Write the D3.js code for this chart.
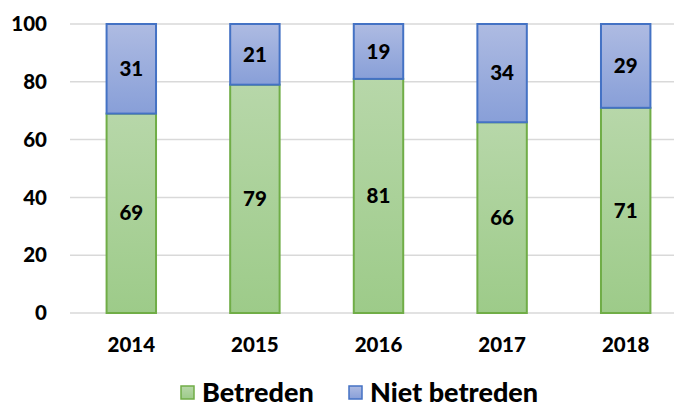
<!DOCTYPE html>
<meta charset="utf-8">
<style>
body { margin: 0; background: #fff; }
text { font-family: Lato, "Liberation Sans", sans-serif; font-weight: 900; fill: #000; }
.grid line { stroke: #d9d9d9; stroke-width: 1.5px; }
</style>
<svg width="674" height="409"></svg>
<script src="https://d3js.org/d3.v7.min.js"></script>
<script>

var years = ["2014", "2015", "2016", "2017", "2018"];
var betreden = [69, 79, 81, 66, 71];
var nietBetreden = [31, 21, 19, 34, 29];
var yTicks = [0, 20, 40, 60, 80, 100];

var svg = d3.select("svg");

var x = d3.scaleBand()
    .domain(years)
    .range([69.5, 687.5])
    .paddingInner(0.6)
    .paddingOuter(0.3);

var y = d3.scaleLinear()
    .domain([0, 100])
    .range([313, 24]);

// gradients, lighter at the top like the original
var defs = svg.append("defs");
function grad(id, top, bottom) {
  var g = defs.append("linearGradient").attr("id", id)
      .attr("x1", 0).attr("y1", 0).attr("x2", 0).attr("y2", 1);
  g.append("stop").attr("offset", "0%").attr("stop-color", top);
  g.append("stop").attr("offset", "100%").attr("stop-color", bottom);
}
grad("gGreen", "#b7d7a9", "#9dcb89");
grad("gBlue", "#aebbe2", "#889fd8");

// gridlines
svg.append("g").attr("class", "grid")
  .selectAll("line")
  .data(yTicks)
  .enter().append("line")
    .attr("x1", 70).attr("x2", 674)
    .attr("y1", function(d) { return y(d); })
    .attr("y2", function(d) { return y(d); });

// y tick labels
svg.append("g")
  .selectAll("text")
  .data(yTicks)
  .enter().append("text")
    .attr("x", 47)
    .attr("y", function(d) { return y(d); })
    .attr("dy", "0.35em")
    .attr("text-anchor", "end")
    .style("font-size", "20.5px")
    .text(function(d) { return d; });

var rows = years.map(function(yr, i) {
  return { year: yr, b: betreden[i], n: nietBetreden[i] };
});

var bars = svg.append("g").selectAll("g")
  .data(rows)
  .enter().append("g");

bars.append("rect")
    .attr("x", function(d) { return x(d.year); })
    .attr("width", x.bandwidth())
    .attr("y", function(d) { return y(d.b); })
    .attr("height", function(d) { return y(0) - y(d.b); })
    .attr("fill", "url(#gGreen)")
    .attr("stroke", "#70ad47")
    .attr("stroke-width", 2);

bars.append("rect")
    .attr("x", function(d) { return x(d.year); })
    .attr("width", x.bandwidth())
    .attr("y", function(d) { return y(100); })
    .attr("height", function(d) { return y(d.b) - y(100); })
    .attr("fill", "url(#gBlue)")
    .attr("stroke", "#4472c4")
    .attr("stroke-width", 2);

bars.append("text")
    .attr("x", function(d) { return x(d.year) + x.bandwidth() / 2; })
    .attr("y", function(d) { return y(d.b / 2); })
    .attr("dy", "0.35em")
    .attr("text-anchor", "middle")
    .style("font-size", "20.5px")
    .text(function(d) { return d.b; });

bars.append("text")
    .attr("x", function(d) { return x(d.year) + x.bandwidth() / 2; })
    .attr("y", function(d) { return y(d.b + d.n / 2); })
    .attr("dy", "0.35em")
    .attr("text-anchor", "middle")
    .style("font-size", "20.5px")
    .text(function(d) { return d.n; });

// x labels
svg.append("g")
  .selectAll("text")
  .data(years)
  .enter().append("text")
    .attr("x", function(d) { return x(d) + x.bandwidth() / 2; })
    .attr("y", 345)
    .attr("dy", "0.35em")
    .attr("text-anchor", "middle")
    .style("font-size", "20.5px")
    .text(function(d) { return d; });

// legend
var legend = [
  { name: "Betreden", fill: "url(#gGreen)", stroke: "#70ad47", x: 181 },
  { name: "Niet betreden", fill: "url(#gBlue)", stroke: "#4472c4", x: 349 }
];
var lg = svg.append("g").selectAll("g")
  .data(legend)
  .enter().append("g");
lg.append("rect")
    .attr("x", function(d) { return d.x; })
    .attr("y", 386)
    .attr("width", 13).attr("height", 13)
    .attr("fill", function(d) { return d.fill; })
    .attr("stroke", function(d) { return d.stroke; })
    .attr("stroke-width", 1.5);
lg.append("text")
    .attr("x", function(d) { return d.x + 21; })
    .attr("y", 393)
    .attr("dy", "0.35em")
    .style("font-size", "27px")
    .text(function(d) { return d.name; });

</script>
